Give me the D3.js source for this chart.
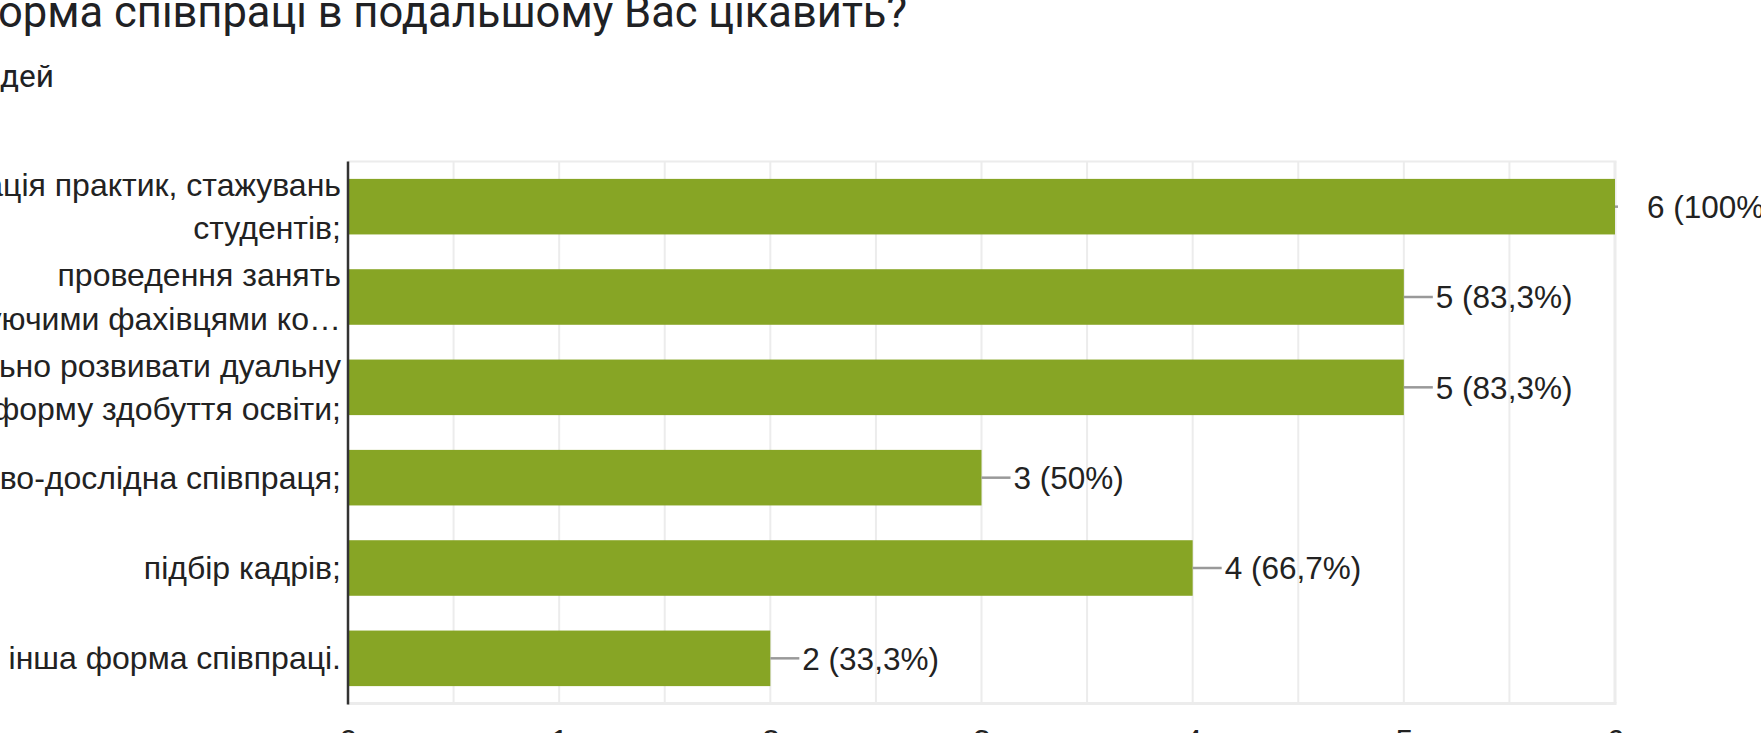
<!DOCTYPE html>
<html>
<head>
<meta charset="utf-8">
<script src="https://cdn.jsdelivr.net/npm/d3@7"></script>
<style>
  html, body { margin: 0; padding: 0; background: #fff; overflow: hidden; }
</style>
</head>
<body>
<div id="chart"></div>
<script>
var fullWidth = 1761;
var fullHeight = 733;

// data
var title = "Яка форма співпраці в подальшому Вас цікавить?";
var subtitle = "6 відповідей";
var categories = [
    "організація практик, стажувань студентів;",
    "проведення занять практикуючими фахівцями компаній;",
    "спільно розвивати дуальну форму здобуття освіти;",
    "науково-дослідна співпраця;",
    "підбір кадрів;",
    "інша форма співпраці."
];
var labelLines = [
    ["організація практик, стажувань", "студентів;"],
    ["проведення занять", "практикуючими фахівцями ко…"],
    ["спільно розвивати дуальну", "форму здобуття освіти;"],
    ["науково-дослідна співпраця;"],
    ["підбір кадрів;"],
    ["інша форма співпраці."]
];
var counts = [6, 5, 5, 3, 4, 2];
var percents = ["100%", "83,3%", "83,3%", "50%", "66,7%", "33,3%"];
var tickValues = [0, 1, 2, 3, 4, 5, 6];

var plot = { left: 348, right: 1615, top: 161.5, bottom: 703.5 };
var barColor = "#87a525";

var svg = d3.select("#chart")
    .append("svg")
    .attr("width", fullWidth)
    .attr("height", fullHeight);

// title + subtitle (page is scrolled so their left part is off screen)
svg.append("text")
    .attr("x", 907)
    .attr("y", 27)
    .attr("text-anchor", "end")
    .style("font-family", "Roboto, sans-serif")
    .style("font-size", "43.5px")
    .style("fill", "#202124")
    .text(title);

svg.append("text")
    .attr("x", 54)
    .attr("y", 87)
    .attr("text-anchor", "end")
    .style("font-family", "Roboto, sans-serif")
    .style("font-size", "31.5px")
    .style("fill", "#202124")
    .text(subtitle);

var x = d3.scaleLinear()
    .domain([0, 6])
    .range([plot.left, plot.right]);

var y = d3.scaleBand()
    .domain(categories)
    .range([plot.top, plot.bottom])
    .paddingInner(0.385)
    .paddingOuter(0.1925);

// gridlines, every half unit
var grid = svg.append("g").attr("class", "grid");
grid.selectAll("line.v")
    .data(d3.range(1, 13).map(d => d / 2))
    .enter()
    .append("line")
    .attr("class", "v")
    .attr("x1", d => x(d))
    .attr("x2", d => x(d))
    .attr("y1", plot.top)
    .attr("y2", plot.bottom)
    .style("stroke", "#ececec")
    .style("stroke-width", d => d === 6 ? 3 : 2);

grid.selectAll("line.h")
    .data([plot.top, plot.bottom])
    .enter()
    .append("line")
    .attr("class", "h")
    .attr("x1", plot.left)
    .attr("x2", x(6) + 1.5)
    .attr("y1", d => d)
    .attr("y2", d => d)
    .style("stroke", "#ececec")
    .style("stroke-width", (d, i) => i === 0 ? 2 : 3);

// bars
svg.selectAll("rect.bar")
    .data(counts)
    .enter()
    .append("rect")
    .attr("class", "bar")
    .attr("x", x(0))
    .attr("y", (d, i) => y(categories[i]))
    .attr("width", d => x(d) - x(0))
    .attr("height", y.bandwidth())
    .style("fill", barColor);

// zero baseline
svg.append("line")
    .attr("x1", x(0))
    .attr("x2", x(0))
    .attr("y1", plot.top)
    .attr("y2", plot.bottom + 1)
    .style("stroke", "#333")
    .style("stroke-width", 2.5);

// leader lines + value annotations
svg.selectAll("line.leader")
    .data(counts)
    .enter()
    .append("line")
    .attr("class", "leader")
    .attr("x1", d => x(d))
    .attr("x2", d => Math.min(x(d) + 29, x(6) + 3))
    .attr("y1", (d, i) => y(categories[i]) + y.bandwidth() / 2)
    .attr("y2", (d, i) => y(categories[i]) + y.bandwidth() / 2)
    .style("stroke", "#999")
    .style("stroke-width", 2.5);

svg.selectAll("text.value")
    .data(counts)
    .enter()
    .append("text")
    .attr("class", "value")
    .attr("x", d => x(d) + 32)
    .attr("y", (d, i) => y(categories[i]) + y.bandwidth() / 2)
    .attr("dy", "0.36em")
    .style("font-family", "'Liberation Sans', Arial, sans-serif")
    .style("font-size", "31.5px")
    .style("fill", "#222")
    .text((d, i) => d + " (" + percents[i] + ")");

// category labels
var lineH = 43.3;
var labels = svg.selectAll("text.cat")
    .data(labelLines)
    .enter()
    .append("text")
    .attr("class", "cat")
    .attr("text-anchor", "end")
    .style("font-family", "'Liberation Sans', Arial, sans-serif")
    .style("font-size", "32px")
    .style("fill", "#222");

labels.each(function (lines, i) {
    var cy = y(categories[i]) + y.bandwidth() / 2;
    var y0 = cy - (lines.length - 1) * lineH / 2;
    d3.select(this).selectAll("tspan")
        .data(lines)
        .enter()
        .append("tspan")
        .attr("x", 341)
        .attr("y", (d, j) => y0 + j * lineH)
        .attr("dy", "0.34em")
        .text(d => d);
});

// bottom axis (labels mostly cut off by the page edge)
var xAxis = svg.append("g")
    .attr("transform", "translate(0," + plot.bottom + ")")
    .call(d3.axisBottom(x).tickValues(tickValues).tickSize(0).tickFormat(d3.format("d")));
xAxis.select(".domain").remove();
xAxis.selectAll("text")
    .attr("y", 25.5)
    .attr("dy", "0.71em")
    .style("font-family", "'Liberation Sans', Arial, sans-serif")
    .style("font-size", "32px")
    .style("fill", "#222");
</script>
</body>
</html>
